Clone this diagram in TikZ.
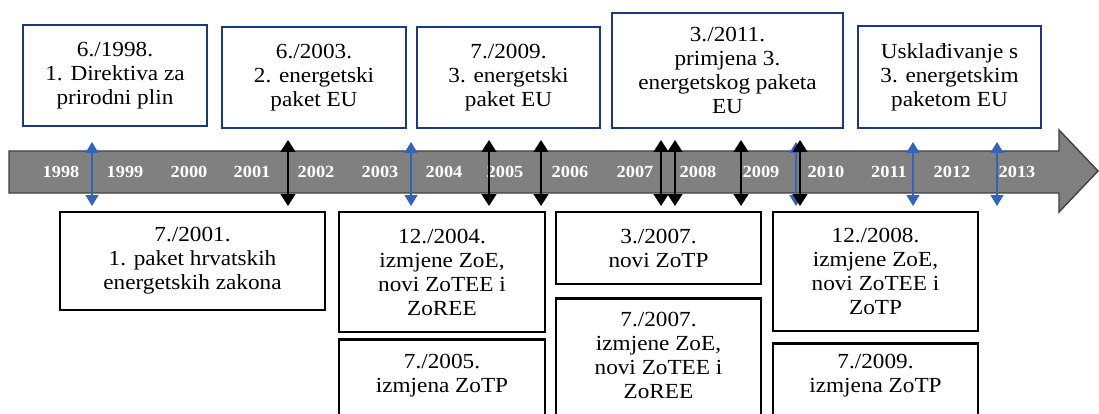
\documentclass[tikz,border=0pt]{standalone}
\usepackage{fontspec}
\setmainfont{Liberation Serif}
\newfontfamily\boxfont{Liberation Serif}[FakeStretch=1.08]
\usetikzlibrary{arrows.meta}
\definecolor{navy}{RGB}{30,55,130}
\definecolor{bandgray}{RGB}{128,128,128}
\definecolor{arrblue}{RGB}{50,100,190}
\tikzset{
  topbox/.style={draw=navy, line width=2.2pt, fill=white, inner sep=0pt, align=center,
    font=\boxfont\fontsize{21.5}{24}\selectfont},
  botbox/.style={draw=black, line width=2.6pt, fill=white, inner sep=0pt, align=center,
    font=\boxfont\fontsize{21.5}{24}\selectfont},
  boxtext/.style={inner sep=0pt, align=center, font=\boxfont\fontsize{21.5}{24}\selectfont},
  yearlbl/.style={text=white, inner sep=0pt, font=\boxfont\fontsize{17}{19}\selectfont\bfseries},
  blkarrow/.style={{Triangle[width=15pt,length=12pt]}-{Triangle[width=15pt,length=12pt]}, line width=1.6pt, draw=black},
  bluearrow/.style={{Triangle[width=13pt,length=11pt]}-{Triangle[width=13pt,length=11pt]}, line width=1.3pt, draw=arrblue, color=arrblue},
}
\begin{document}
\begin{tikzpicture}[x=1pt,y=-1pt]
\useasboundingbox (0,0) rectangle (1099,414);
\clip (0,0) rectangle (1099,414);
\fill[white] (0,0) rectangle (1099,414);
% timeline band
\draw[draw=black!75, fill=bandgray, line width=1.4pt, line join=miter]
  (9,151) -- (1059,151) -- (1059,130) -- (1098,171) -- (1059,212) -- (1059,193) -- (9,193) -- cycle;
% years
\foreach \x/\y in {61/1998,125/1999,189/2000,252/2001,316/2002,380/2003,444/2004,505/2005,
                   570/2006,635/2007,698/2008,761/2009,826/2010,889/2011,952/2012,1017/2013}
  \node[yearlbl] (y\y) at (\x,172) {\y};
% double arrows
\foreach \x/\n in {92/a,411/b,796/c,913/d,997/e} {
  \coordinate (bu\n) at (\x,142);
  \coordinate (bd\n) at (\x,206);
  \draw[bluearrow] (bd\n) -- (bu\n);
}
\foreach \x/\n in {288/a,489/b,541/c,661/d,675/e,741/f,800/g} {
  \coordinate (ku\n) at (\x,140);
  \coordinate (kd\n) at (\x,206);
  \draw[blkarrow] (kd\n) -- (ku\n);
}
% top boxes
\node[topbox, minimum width=184, minimum height=101] (p1) at (115,75.5) {6./1998.\\1. Direktiva za\\prirodni plin};
\node[topbox, minimum width=184, minimum height=101] (p2) at (314,77.5) {6./2003.\\2. energetski\\paket EU};
\node[topbox, minimum width=183, minimum height=101] (p3) at (508.5,77.5) {7./2009.\\3. energetski\\paket EU};
\node[topbox, minimum width=231, minimum height=115] (p4) at (727.5,70.5) {3./2011.\\primjena 3.\\energetskog paketa\\EU};
\node[topbox, minimum width=183, minimum height=102] (p5) at (949.5,77) {Usklađivanje s\\3. energetskim\\paketom EU};
% bottom boxes
\node[botbox, minimum width=265, minimum height=98] (q1) at (192.5,261) {7./2001.\\1. paket hrvatskih\\energetskih zakona};
\node[botbox, minimum width=206, minimum height=120] (q2) at (442,272) {12./2004.\\izmjene ZoE,\\novi ZoTEE i\\ZoREE};
\node[botbox, minimum width=206, minimum height=90, anchor=north] (q3) at (442,338) {};
\node[boxtext] (q3t) at (442,376) {7./2005.\\izmjena ZoTP};
\node[botbox, minimum width=205, minimum height=72] (q4) at (658.5,248) {3./2007.\\novi ZoTP};
\node[botbox, minimum width=205, minimum height=130, anchor=north] (q5) at (658.5,297) {};
\node[boxtext] (q5t) at (658.5,355) {7./2007.\\izmjene ZoE,\\novi ZoTEE i\\ZoREE};
\node[botbox, minimum width=205, minimum height=119] (q6) at (875.5,271.5) {12./2008.\\izmjene ZoE,\\novi ZoTEE i\\ZoTP};
\node[botbox, minimum width=205, minimum height=90, anchor=north] (q7) at (875.5,342) {};
\node[boxtext] (q7t) at (875.5,376) {7./2009.\\izmjena ZoTP};
\end{tikzpicture}
\end{document}
